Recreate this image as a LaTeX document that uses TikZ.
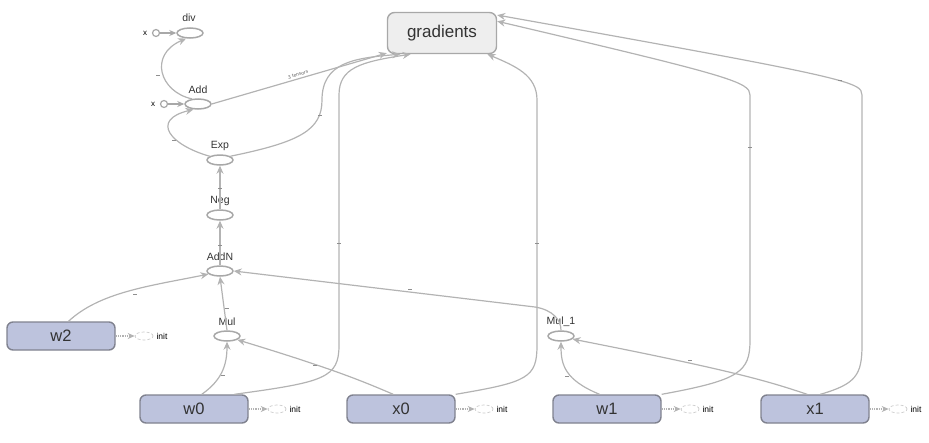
\documentclass[tikz,border=0pt]{standalone}
\usepackage{fontspec}
\setmainfont{Liberation Sans}
\usetikzlibrary{shapes.geometric,arrows.meta,positioning}
\definecolor{edgec}{HTML}{B3B3B3}
\definecolor{boxfill}{HTML}{BDC3DD}
\definecolor{boxdraw}{HTML}{80828F}
\definecolor{txt}{HTML}{333333}
\definecolor{gfill}{HTML}{EEEEEE}
\definecolor{gdraw}{HTML}{A8A8A8}
\tikzset{
  opnode/.style={ellipse, draw=gdraw, line width=1.5pt, minimum width=26pt, minimum height=10pt, inner sep=0pt},
  oplabel/.style={font=\fontsize{10.5}{10.5}\selectfont, text=txt},
  varbox/.style={rectangle, rounded corners=6pt, draw=boxdraw, line width=1.4pt, fill=boxfill, minimum width=108pt, minimum height=28pt, font=\fontsize{16.5}{16.5}\selectfont, text=txt},
  gradbox/.style={rectangle, rounded corners=7pt, draw=gdraw, line width=1.4pt, fill=gfill, minimum width=109pt, minimum height=41pt, font=\fontsize{17}{17}\selectfont, text=txt},
  edge/.style={draw=edgec, line width=1.2pt, -{Stealth[length=8pt,width=7pt]}},
  initedge/.style={draw=edgec, line width=1.2pt, densely dotted, -{Stealth[length=7pt,width=6pt]}},
  initnode/.style={ellipse, draw=edgec!70, densely dashed, line width=0.7pt, minimum width=18pt, minimum height=8pt, inner sep=0pt},
  inittext/.style={font=\fontsize{8.5}{8.5}\selectfont, text=black, anchor=west, inner sep=0pt},
  xcirc/.style={circle, draw=gdraw, line width=1.2pt, minimum size=7pt, inner sep=0pt},
  xtext/.style={font=\fontsize{8}{8}\selectfont, text=black, inner sep=0pt},
  tickm/.style={draw=edgec!80!black, line width=0.6pt},
}
\begin{document}
\begin{tikzpicture}[x=1pt,y=1pt]
\useasboundingbox (0,0) rectangle (929,-442);
% gradients
\node[gradbox] (grad) at (442,-33) {gradients};
% op nodes
\node[opnode] (div) at (190,-33) {};
\node[oplabel] at (189,-18) {div};
\node[opnode] (add) at (198,-104) {};
\node[oplabel] at (198,-90) {Add};
\node[opnode] (exp) at (220,-160) {};
\node[oplabel] at (220,-146) {Exp};
\node[opnode] (neg) at (220,-215) {};
\node[oplabel] at (220,-201) {Neg};
\node[opnode] (addn) at (220,-271) {};
\node[oplabel] at (220,-257) {AddN};
\node[opnode] (mul) at (227,-336) {};
\node[oplabel] at (227,-322) {Mul};
\node[opnode] (mul1) at (561,-336) {};
\node[oplabel] at (561,-322) {Mul\_1};
% x inputs
\node[xcirc] (xa) at (156,-33) {};
\node[xtext] (xat) at (145,-33) {x};
\node[xcirc] (xb) at (164,-104) {};
\node[xtext] (xbt) at (153,-104) {x};
\draw[draw=gdraw, line width=1.2pt, -{Stealth[length=7pt,width=6pt]}] (xa) -- (div);
\draw[draw=gdraw, line width=1.2pt, -{Stealth[length=7pt,width=6pt]}] (xb) -- (add);
% variable boxes
\node[varbox] (w2) at (61,-336) {w2};
\node[varbox] (w0) at (194,-409) {w0};
\node[varbox] (x0) at (401,-409) {x0};
\node[varbox] (w1) at (607,-409) {w1};
\node[varbox] (x1) at (815,-409) {x1};
% init nodes
\foreach \v in {w2,w0,x0,w1,x1}{
  \node[initnode, right=19pt of \v.east] (\v init) {};
  \node[inittext, right=3pt of \v init.east] (\v inittxt) {init};
  \draw[initedge] (\v.east) -- (\v init.west);
}
% edges
\draw[edge] (add.140) .. controls (160,-92) and (148,-55) .. (div.235);
\draw[edge] (exp.160) .. controls (170,-145) and (150,-120) .. (add.230);
\draw[edge] (add.east) -- node[sloped, above=-1.5pt, pos=0.5, font=\fontsize{5}{5}\selectfont, text=gray!80!black] {3 tensors} (grad.200);
\draw[edge] (exp.20) .. controls (300,-142) and (322,-130) .. (322,-100) .. controls (322,-62) and (355,-58) .. (grad.207);
\draw[edge] (w0.20) .. controls (325,-382) and (339,-378) .. (339,-345) -- (339,-95) .. controls (339,-68) and (360,-62) .. (grad.214);
\draw[edge] (x0.north east) .. controls (528,-382) and (537,-378) .. (537,-345) -- (537,-100) .. controls (537,-75) and (515,-66) .. (grad.-25);
\draw[edge] (w1.north east) .. controls (740,-380) and (750,-372) .. (750,-340) -- (750,-95) .. controls (750,-82) and (730,-76) .. (grad.12);
\draw[edge] (x1.70) .. controls (856,-384) and (862,-375) .. (862,-345) -- (862,-95) .. controls (862,-82) and (850,-78) .. (grad.18);
\draw[edge] (neg) -- (exp);
\draw[edge] (addn) -- (neg);
\draw[edge] (w2.63) .. controls (100,-292) and (150,-286) .. (addn.195);
\draw[edge] (mul.north) -- (addn.south);
\draw[edge] (mul1.north) .. controls (561,-320) and (553,-310) .. (535,-307) -- (addn.east);
\draw[edge] (w0.62) .. controls (222,-380) and (227,-365) .. (mul.south);
\draw[edge] (x0.118) .. controls (360,-380) and (330,-368) .. (mul.-20);
\draw[edge] (w1.117) .. controls (565,-380) and (561,-365) .. (mul1.south);
\draw[edge] (x1.118) .. controls (770,-382) and (740,-372) .. (mul1.-15);
% tiny shape ticks
\foreach \p in {(158,-75),(174,-140),(320,-115),(220,-188),(220,-245),(135,-294),(227,-308),(410,-289),(223,-375),(315,-365),(339,-243),(537,-243),(750,-147),(840,-80),(567,-376),(690,-360)}{
  \draw[tickm] \p ++(-2,0) -- ++(4,0);
}
\end{tikzpicture}
\end{document}
